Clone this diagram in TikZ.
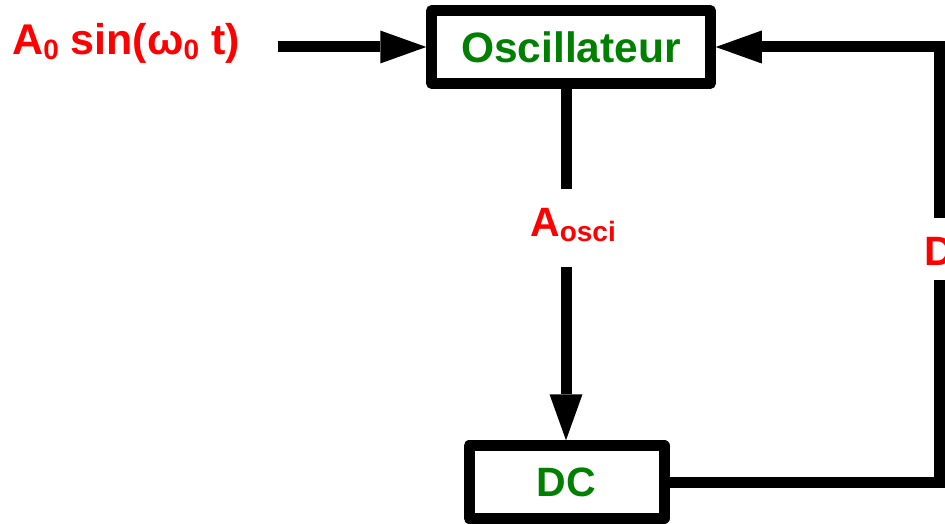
\documentclass[tikz,border=0pt]{standalone}
\usepackage{fontspec}
\setmainfont{Liberation Sans}
\usetikzlibrary{arrows.meta}
\definecolor{lblred}{RGB}{255,0,0}
\definecolor{boxgreen}{RGB}{0,128,0}
\newcommand\mysubtxt[1]{\raisebox{-5pt}{\fontsize{28}{28}\selectfont\bfseries #1}}
\begin{document}
\begin{tikzpicture}[x=1pt,y=-1pt,
  blockbox/.style={draw=black, line width=11pt, line join=round, inner sep=0pt,
    font=\fontsize{41}{41}\selectfont\bfseries, text=boxgreen},
  lbl/.style={inner sep=0pt, anchor=base west, text=lblred, font=\fontsize{41}{41}\selectfont\bfseries},
  wire/.style={draw=black, line width=11pt, line join=miter},
  arrowwire/.style={wire, -{Triangle[length=46pt,width=33pt,line width=0pt]}}]
\path[use as bounding box, fill=white] (0,0) rectangle (945,524);
\clip (0,0) rectangle (945,524);
% blocks
\node[blockbox, minimum width=278.5pt, minimum height=73pt,
  font=\fontsize{42.5}{42.5}\selectfont\bfseries] (osc) at (571,47) {Oscillateur};
\node[blockbox, minimum width=195pt, minimum height=72.5pt] (dc) at (566.5,482) {DC};
% labels
\node[lbl, font=\fontsize{43}{43}\selectfont\bfseries] (input) at (12,55) {A\mysubtxt{0} sin(ω\mysubtxt{0} t)};
\node[lbl] (aosci) at (530,236) {A\mysubtxt{osci}};
\node[lbl] (dlbl) at (924,265) {D};
% free ends
\coordinate (in) at (278,47);
\coordinate (g1) at (566,189);
\coordinate (g2) at (566,267);
\coordinate (g3) at (939,280);
\coordinate (g4) at (939,218);
% connectors
\draw[arrowwire] (in) -- (osc.west);
\draw[wire] (g1 |- osc.south) -- (g1);
\draw[arrowwire] (g2) -- (g2 |- dc.north);
\draw[wire] (dc.east) -| (g3);
\draw[arrowwire] (g4) |- (osc.east);
\end{tikzpicture}
\end{document}
